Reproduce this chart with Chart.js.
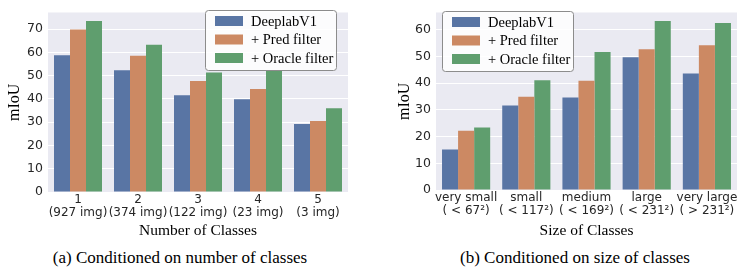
<!DOCTYPE html>
<html>
<head>
<meta charset="utf-8">
<script src="https://cdn.jsdelivr.net/npm/chart.js@4.4.0/dist/chart.umd.min.js"></script>
<style>
  body { margin: 0; background: #fff; width: 747px; height: 272px; position: relative; overflow: hidden; }
  canvas { position: absolute; top: 0; }
  .cap { position: absolute; top: 248px; font-family: "Liberation Serif", serif; font-size: 17px; color: #000; white-space: nowrap; transform: translateX(-50%); }
</style>
</head>
<body>
<div style="position:absolute;left:0;top:0;width:360px;height:240px"><canvas id="left"></canvas></div>
<div style="position:absolute;left:375px;top:0;width:372px;height:240px"><canvas id="right"></canvas></div>
<div class="cap" style="left:180px">(a) Conditioned on number of classes</div>
<div class="cap" style="left:575px">(b) Conditioned on size of classes</div>
<script>
const seriesNames = ['DeeplabV1', '+ Pred filter', '+ Oracle filter']
const colors = ['#5975A4', '#CC8963', '#5F9E6E']

const numLabels = [['1', '(927 img)'], ['2', '(374 img)'], ['3', '(122 img)'], ['4', '(23 img)'], ['5', '(3 img)']]
const numBase = [58.8, 52.4, 41.6, 39.9, 29.2]
const numPred = [69.9, 58.6, 47.7, 44.3, 30.5]
const numOracle = [73.5, 63.3, 51.4, 52.0, 36.0]

const sizeLabels = [['very small', '( < 67²)'], ['small', '( < 117²)'], ['medium', '( < 169²)'], ['large', '( < 231²)'], ['very large', '( > 231²)']]
const sizeBase = [15.2, 31.7, 34.7, 49.7, 43.6]
const sizePred = [22.2, 34.9, 40.9, 52.7, 54.2]
const sizeOracle = [23.4, 41.1, 51.7, 63.3, 62.6]

const bgPlugin = {
  id: 'bg',
  beforeDraw(chart) {
    const a = chart.chartArea
    const ctx = chart.ctx
    ctx.save()
    ctx.fillStyle = '#EAEAF2'
    ctx.fillRect(a.left, a.top, a.right - a.left, a.bottom - a.top)
    ctx.restore()
  }
}

// legend box drawn inside the plot, like matplotlib
const boxLegend = {
  id: 'boxLegend',
  afterDraw(chart, args, opts) {
    const a = chart.chartArea
    const ctx = chart.ctx
    const w = 131, h = 60
    const x = opts.side === 'right' ? a.right - opts.dx - w : a.left + opts.dx
    const y = a.top + opts.dy
    ctx.save()
    ctx.beginPath()
    ctx.roundRect(x + 0.5, y + 0.5, w, h, 3)
    ctx.fillStyle = 'rgba(255,255,255,0.85)'
    ctx.fill()
    ctx.strokeStyle = '#8c8c8c'
    ctx.lineWidth = 1
    ctx.stroke()
    ctx.font = '14.5px "Liberation Serif"'
    ctx.textBaseline = 'middle'
    chart.data.datasets.forEach((ds, i) => {
      const cy = y + 11 + i * 18.5
      ctx.fillStyle = ds.backgroundColor
      ctx.fillRect(x + 10, cy - 5, 28, 10)
      ctx.fillStyle = '#000'
      ctx.fillText(ds.label, x + 46, cy + 1)
    })
    ctx.restore()
  }
}

function makeChart(id, labels, values, xTitle, yMax, pad, yWidth, xHeight, legendOpts) {
  return new Chart(document.getElementById(id), {
    type: 'bar',
    data: {
      labels: labels,
      datasets: values.map((v, i) => ({
        label: seriesNames[i],
        data: v,
        backgroundColor: colors[i],
        borderWidth: 0,
        categoryPercentage: 0.8,
        barPercentage: 1.0
      }))
    },
    options: {
      responsive: true,
      maintainAspectRatio: false,
      animation: false,
      layout: { padding: pad },
      plugins: {
        legend: { display: false },
        tooltip: { enabled: false },
        boxLegend: legendOpts
      },
      scales: {
        x: {
          grid: { display: false, drawTicks: false },
          border: { display: false },
          ticks: { color: '#262626', padding: 2, font: { family: 'DejaVu Sans', size: 12, lineHeight: 1.05 }, maxRotation: 0, autoSkip: false },
          title: { display: true, text: xTitle, color: '#000', padding: 0, font: { family: 'Liberation Serif', size: 15.5 } },
          afterFit: s => { s.height = xHeight }
        },
        y: {
          min: 0,
          max: yMax,
          grid: { color: '#ffffff', lineWidth: 1, drawTicks: false },
          border: { display: false },
          ticks: { stepSize: 10, color: '#262626', padding: 5, font: { family: 'DejaVu Sans', size: 12.5 } },
          title: { display: true, text: 'mIoU', color: '#000', padding: 0, font: { family: 'Liberation Serif', size: 16 } },
          afterBuildTicks: s => { s.ticks = s.ticks.filter(t => t.value % 10 === 0) },
          afterFit: s => { s.width = yWidth }
        }
      }
    },
    plugins: [bgPlugin, boxLegend]
  })
}

makeChart('left', numLabels, [numBase, numPred, numOracle], 'Number of Classes', 77.2,
  { left: 5, right: 12, top: 9, bottom: 0 }, 43, 48, { side: 'right', dx: 12, dy: -2.5 })
makeChart('right', sizeLabels, [sizeBase, sizePred, sizeOracle], 'Size of Classes', 66.5,
  { left: 20, right: 10, top: 8, bottom: 0 }, 41, 50, { side: 'left', dx: 6, dy: -1.5 })
</script>
</body>
</html>
